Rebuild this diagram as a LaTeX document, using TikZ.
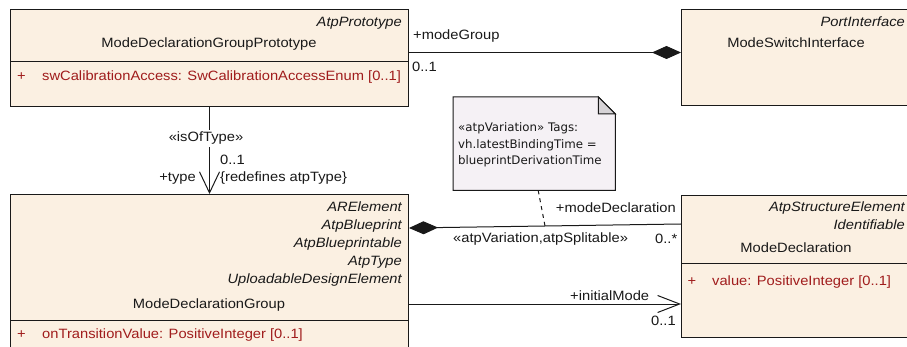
\documentclass[tikz,border=0pt]{standalone}
\usepackage{fontspec}
\setmainfont[FakeStretch=1.09]{Liberation Sans}
\newfontfamily\notefont{DejaVu Sans}
\usetikzlibrary{arrows.meta}
\definecolor{boxfill}{RGB}{251,240,226}
\definecolor{notefill}{RGB}{245,241,245}
\definecolor{foldfill}{RGB}{214,211,214}
\definecolor{attrred}{RGB}{160,28,28}
\definecolor{ink}{RGB}{25,25,25}
\tikzset{
  umlbox/.style={draw=ink, line width=1pt, fill=boxfill, rectangle, inner sep=0pt, anchor=north west},
  txt/.style={inner sep=0pt, text=ink, font=\fontsize{13.5}{16}\selectfont},
  ital/.style={txt, font=\fontsize{13.5}{16}\selectfont\itshape, anchor=base east},
  attr/.style={inner sep=0pt, text=attrred, font=\fontsize{13.5}{16}\selectfont, anchor=base west},
  plus/.style={inner sep=0pt, text=attrred, font=\fontsize{13.5}{16}\selectfont, anchor=base},
  lbl/.style={txt},
  conn/.style={draw=ink, line width=1pt},
  divider/.style={draw=ink, line width=1pt},
  notetxt/.style={inner sep=0pt, text=ink, font=\notefont\fontsize{11.8}{16.7}\selectfont, anchor=base west}
}
\begin{document}
\begin{tikzpicture}[x=1pt,y=-1pt]
\useasboundingbox (0,0) rectangle (907,347);
\clip (0,0) rectangle (907,347);
\fill[white] (0,0) rectangle (907,347);

% boxes
\node[umlbox, minimum width=234pt, minimum height=96pt] (b2) at (681,9) {};
\node[umlbox, minimum width=398pt, minimum height=97pt] (b1) at (10,9) {};
\node[umlbox, minimum width=398pt, minimum height=166pt] (b3) at (10,194) {};
\node[umlbox, minimum width=234pt, minimum height=142pt] (b4) at (681,195) {};

% box 1
\node[ital] (b1s) at (402,26.5) {AtpPrototype};
\node[txt, anchor=base] (b1n) at (209,48) {ModeDeclarationGroupPrototype};
\draw[divider] (b1.west |- 0,61.5) -- (b1.east |- 0,61.5);
\node[plus] (b1p) at (21.5,81) {+};
\node[attr] (b1a) at (42,81) {swCalibrationAccess: SwCalibrationAccessEnum [0..1]};

% box 2
\node[ital] (b2s) at (905,26.5) {PortInterface};
\node[txt, anchor=base] (b2n) at (796,48) {ModeSwitchInterface};

% box 3
\node[ital] (b3s1) at (402,211.5) {ARElement};
\node[ital] (b3s2) at (402,229.5) {AtpBlueprint};
\node[ital] (b3s3) at (402,247.5) {AtpBlueprintable};
\node[ital] (b3s4) at (402,265.5) {AtpType};
\node[ital] (b3s5) at (402,283.5) {UploadableDesignElement};
\node[txt, anchor=base] (b3n) at (209,308) {ModeDeclarationGroup};
\draw[divider] (b3.west |- 0,320) -- (b3.east |- 0,320);
\node[plus] (b3p) at (21.5,338.5) {+};
\node[attr] (b3a) at (42,338.5) {onTransitionValue: PositiveInteger [0..1]};

% box 4
\node[ital] (b4s1) at (905,211.5) {AtpStructureElement};
\node[ital] (b4s2) at (905,229.5) {Identifiable};
\node[txt, anchor=base] (b4n) at (796,253) {ModeDeclaration};
\draw[divider] (b4.west |- 0,264) -- (b4.east |- 0,264);
\node[plus] (b4p) at (692,285) {+};
\node[attr] (b4a) at (712,285) {value: PositiveInteger [0..1]};

% note
\node[inner sep=0pt, minimum width=162pt, minimum height=93pt, anchor=north west] (note) at (453,97) {};
\draw[ink, line width=1pt, fill=notefill]
  (note.north west) -- ([xshift=-17pt]note.north east) -- ([yshift=-17pt]note.north east)
  -- (note.south east) -- (note.south west) -- cycle;
\draw[ink, line width=1pt, fill=foldfill]
  ([xshift=-17pt]note.north east) -- ([xshift=-17pt,yshift=-17pt]note.north east)
  -- ([yshift=-17pt]note.north east) -- cycle;
\node[notetxt] (n1) at (458,131.7) {«atpVariation» Tags:};
\node[notetxt] (n2) at (458,148.3) {vh.latestBindingTime =};
\node[notetxt] (n3) at (458,165) {blueprintDerivationTime};

% connectors
\draw[conn, -{Diamond[length=29pt,width=13pt]}] ([yshift=5.5pt]b1.east) -- ([yshift=5pt]b2.west);
\node[lbl, anchor=base west] (l1) at (413,40) {+modeGroup};
\node[lbl, anchor=base west] (l2) at (412,72) {0..1};

\draw[conn, -{Straight Barb[length=21pt,width=20pt]}] (b1.south) -- (b3.north);
\node[lbl, anchor=base, fill=white, inner ysep=2pt] (l3) at (206,142) {«isOfType»};
\node[lbl, anchor=base west] (l4) at (220,165) {0..1};
\node[lbl, anchor=base east] (l5) at (196,182) {+type};
\node[lbl, anchor=base west] (l6) at (220,182) {\{redefines atpType\}};

\draw[conn, {Diamond[length=29pt,width=13pt]}-] ([yshift=-34pt]b3.north east) -- coordinate[pos=0.5] (md) ([yshift=-29pt]b4.north west);
\node[lbl, anchor=base east] (l7) at (676,212.5) {+modeDeclaration};
\node[lbl, anchor=base west] (l8) at (453,243) {«atpVariation,atpSplitable»};
\node[lbl, anchor=base west] (l9) at (655,244) {0..*};

\draw[conn, dash pattern=on 4pt off 4pt] ([xshift=4pt]note.south) -- (md);

\draw[conn, -{Straight Barb[length=22pt,width=17pt]}] ([yshift=-110pt]b3.north east) -- ([yshift=-109pt]b4.north west);
\node[lbl, anchor=base west] (l10) at (570,300) {+initialMode};
\node[lbl, anchor=base west] (l11) at (651,325) {0..1};
\end{tikzpicture}
\end{document}
